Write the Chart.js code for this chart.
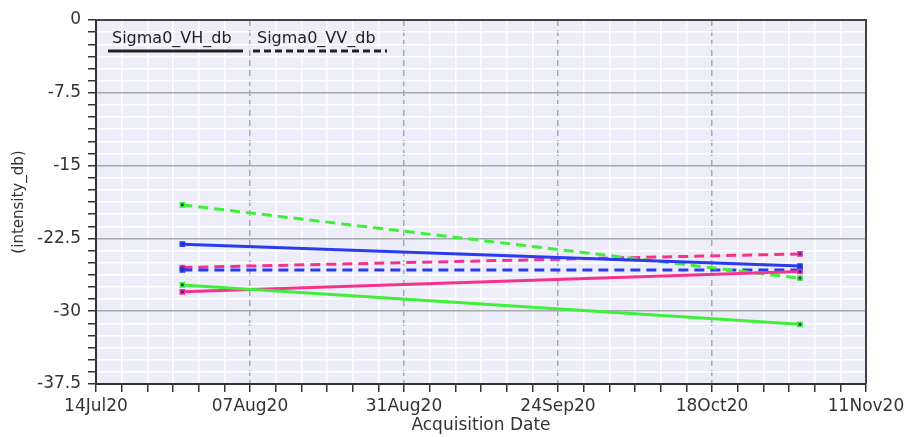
<!DOCTYPE html>
<html>
<head>
<meta charset="utf-8">
<script src="https://cdn.jsdelivr.net/npm/chart.js@4.4.1/dist/chart.umd.min.js"></script>
<style>
  html, body { margin: 0; padding: 0; background: #fff; }
  #wrap { width: 912px; height: 437px; }
</style>
</head>
<body>
<div id="wrap"><canvas id="myChart" width="912" height="437"></canvas></div>
<script>
// acquisition dates and backscatter values (dB)
const fechas = ['2020-07-27T11:00:00Z', '2020-10-31T17:00:00Z'];
const vhVerde = [-27.3, -31.35];
const vhAzul  = [-23.1, -25.35];
const vhRosa  = [-28.0, -25.9];
const vvVerde = [-19.05, -26.6];
const vvAzul  = [-25.75, -25.75];
const vvRosa  = [-25.5, -24.1];

const inicio = Date.UTC(2020, 6, 14);   // 14Jul20, left end of the x axis
const finDias = 120;                     // 11Nov20
const meses = ['Jan','Feb','Mar','Apr','May','Jun','Jul','Aug','Sep','Oct','Nov','Dec'];

function dias(f) {
    return (Date.parse(f) - inicio) / 864e5;
}

function puntos(valores) {
    return valores.map((v, i) => ({ x: dias(fechas[i]), y: v }));
}

function etiquetaFecha(d) {
    const f = new Date(inicio + d * 864e5);
    const dd = String(f.getUTCDate()).padStart(2, '0');
    return dd + meses[f.getUTCMonth()] + String(f.getUTCFullYear()).slice(2);
}

function esMayor(v, paso) {
    return Math.abs(v / paso - Math.round(v / paso)) < 1e-6;
}

const verde = '#3ef03a';
const azul = '#2a3cf2';
const rosa = '#f5338f';

function serie(label, valores, color, dash) {
    return {
        label: label,
        data: puntos(valores),
        borderColor: color,
        backgroundColor: color,
        borderWidth: 3,
        borderDash: dash,
        pointStyle: 'rect',
        pointRadius: 3,
        pointBorderWidth: 1.5,
        pointBorderColor: color,
        pointBackgroundColor: '#26309c',
        tension: 0
    };
}

const fuente = { family: 'DejaVu Sans', size: 17 };

const fondoPlugin = {
    id: 'fondo',
    beforeDraw(chart) {
        const { ctx, chartArea: a } = chart;
        ctx.save();
        ctx.fillStyle = '#ededf9';
        ctx.fillRect(a.left, a.top, a.right - a.left, a.bottom - a.top);
        ctx.restore();
    },
    afterDraw(chart) {
        const { ctx, chartArea: a } = chart;
        ctx.save();
        // frame on top and right
        ctx.strokeStyle = '#444';
        ctx.lineWidth = 2;
        ctx.beginPath();
        ctx.moveTo(a.left, a.top);
        ctx.lineTo(a.right, a.top);
        ctx.lineTo(a.right, a.bottom);
        ctx.stroke();

        // legend: name with line sample underneath
        ctx.font = '16px "DejaVu Sans"';
        ctx.fillStyle = '#222';
        ctx.textBaseline = 'alphabetic';
        ctx.fillText('Sigma0_VH_db', a.left + 16, a.top + 23);
        ctx.fillText('Sigma0_VV_db', a.left + 161, a.top + 23);
        ctx.strokeStyle = '#222';
        ctx.lineWidth = 3;
        ctx.beginPath();
        ctx.moveTo(a.left + 12, a.top + 31);
        ctx.lineTo(a.left + 147, a.top + 31);
        ctx.stroke();
        ctx.setLineDash([7, 4]);
        ctx.beginPath();
        ctx.moveTo(a.left + 157, a.top + 31);
        ctx.lineTo(a.left + 291, a.top + 31);
        ctx.stroke();
        ctx.restore();
    }
};

const data = {
    datasets: [
        serie('Sigma0_VH_db', vhVerde, verde, []),
        serie('Sigma0_VH_db', vhAzul, azul, []),
        serie('Sigma0_VH_db', vhRosa, rosa, []),
        serie('Sigma0_VV_db', vvVerde, verde, [10, 6]),
        serie('Sigma0_VV_db', vvAzul, azul, [10, 6]),
        serie('Sigma0_VV_db', vvRosa, rosa, [10, 6])
    ]
};

const config = {
    type: 'line',
    data: data,
    plugins: [fondoPlugin],
    options: {
        responsive: false,
        animation: false,
        layout: { padding: { top: 20, right: 46, left: 0, bottom: 0 } },
        plugins: {
            legend: { display: false },
            tooltip: { enabled: false }
        },
        scales: {
            x: {
                type: 'linear',
                min: 0,
                max: finDias,
                afterFit: s => { s.height = 53; },
                ticks: {
                    stepSize: 4,
                    autoSkip: false,
                    maxRotation: 0,
                    padding: 4,
                    color: '#333',
                    font: fuente,
                    callback: v => esMayor(v, 24) ? etiquetaFecha(v) : ''
                },
                grid: {
                    color: c => (c.tick && esMayor(c.tick.value, 24)) ? 'rgba(0,0,0,0)' : '#ffffff',
                    lineWidth: 1.5,
                    tickColor: '#333',
                    tickLength: 8,
                    tickWidth: 1.5
                },
                border: { color: '#333', width: 2 },
                title: {
                    display: true,
                    text: 'Acquisition Date',
                    color: '#333',
                    font: fuente,
                    padding: { top: 0, bottom: 1 }
                }
            },
            xg: {
                type: 'linear',
                position: 'bottom',
                min: 0,
                max: finDias,
                afterFit: s => { s.height = 0; },
                ticks: { display: false, stepSize: 24 },
                grid: { color: '#a8a8b0', lineWidth: 1.5, drawTicks: false },
                border: { display: false, dash: [6, 4] }
            },
            y: {
                min: -37.5,
                max: 0,
                afterFit: s => { s.width = 96; },
                ticks: {
                    stepSize: 1.25,
                    autoSkip: false,
                    padding: 7,
                    color: '#333',
                    font: fuente,
                    callback: v => esMayor(v, 7.5) ? String(Math.round(v * 10) / 10) : ''
                },
                grid: {
                    color: c => (c.tick && esMayor(c.tick.value, 7.5)) ? '#a8a8b0' : '#ffffff',
                    lineWidth: 1.5,
                    tickColor: '#333',
                    tickLength: 8,
                    tickWidth: 1.5
                },
                border: { color: '#333', width: 2 },
                title: {
                    display: true,
                    text: '(intensity_db)',
                    color: '#333',
                    font: { family: 'DejaVu Sans', size: 15 },
                    padding: { top: 10, bottom: 0 }
                }
            }
        }
    }
};

const myChart = new Chart(document.getElementById('myChart'), config);
</script>
</body>
</html>
